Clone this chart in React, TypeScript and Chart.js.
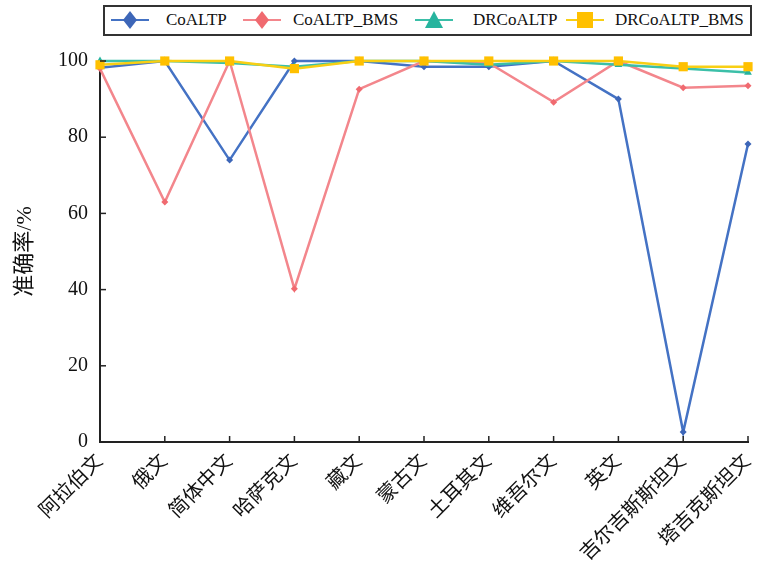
import React, { useEffect, useRef } from 'react';
import { Chart, registerables } from 'chart.js';

Chart.register(...registerables);

const categories = ['阿拉伯文', '俄文', '简体中文', '哈萨克文', '藏文', '蒙古文', '土耳其文', '维吾尔文', '英文', '吉尔吉斯斯坦文', '塔吉克斯坦文'];
const coALTP = [98.2, 100, 74, 100, 100, 98.5, 98.5, 100, 90, 2.6, 78.2];
const coALTPBMS = [98, 63, 100, 40.2, 92.6, 100, 99.5, 89.2, 100, 93, 93.5];
const drCoALTP = [100, 100, 99.5, 98.5, 100, 100, 99, 100, 99, 98, 97];
const drCoALTPBMS = [99, 100, 100, 98, 100, 100, 100, 100, 100, 98.5, 98.5];
const yTickValues = [0, 20, 40, 60, 80, 100];
const seriesNames = ['CoALTP', 'CoALTP_BMS', 'DRCoALTP', 'DRCoALTP_BMS'];

const BLUE = '#4472C4';
const BLUE_PT = '#3D66B8';
const RED = '#F3868C';
const RED_PT = '#F06A70';
const TEAL = '#3BBFA8';
const TEAL_PT = '#27B49E';
const YELLOW = '#F8CF14';
const YELLOW_PT = '#FFC000';

const SERIF = "'Liberation Serif', 'Times New Roman', 'Noto Sans CJK SC', serif";

const inwardTicks = {
  id: 'inwardTicks',
  afterDraw(chart: any) {
    const { ctx, chartArea, scales } = chart;
    const x = scales.x;
    const y = scales.y;
    ctx.save();
    ctx.strokeStyle = '#222';
    ctx.lineWidth = 1.5;
    x.ticks.forEach((_: any, i: number) => {
      const px = x.getPixelForTick(i);
      ctx.beginPath();
      ctx.moveTo(px, chartArea.bottom);
      ctx.lineTo(px, chartArea.bottom - 6);
      ctx.stroke();
    });
    y.ticks.forEach((_: any, i: number) => {
      const py = y.getPixelForTick(i);
      ctx.beginPath();
      ctx.moveTo(chartArea.left, py);
      ctx.lineTo(chartArea.left + 6, py);
      ctx.stroke();
    });
    ctx.restore();
  },
};

function Icon({ kind, line, fill }: { kind: string; line: string; fill: string }) {
  let marker: any = null;
  if (kind === 'diamond') marker = <polygon points="22,3 29,12 22,21 15,12" fill={fill} />;
  if (kind === 'triangle') marker = <polygon points="22,3 31,20 13,20" fill={fill} />;
  if (kind === 'square') marker = <rect x={14} y={4} width={16} height={16} fill={fill} />;
  return (
    <svg width={44} height={24} style={{ display: 'block' }}>
      <line x1={3} y1={12} x2={41} y2={12} stroke={line} strokeWidth={2} />
      {marker}
    </svg>
  );
}

export default function App() {
  const canvasRef = useRef<HTMLCanvasElement | null>(null);

  useEffect(() => {
    const canvas = canvasRef.current;
    if (!canvas) return;
    const mk = (label: string, data: number[], color: string, pt: string, style: string, radius: number, order: number) => ({
      label,
      data,
      borderColor: color,
      backgroundColor: pt,
      pointBackgroundColor: pt,
      pointBorderColor: pt,
      pointBorderWidth: 0,
      pointStyle: style,
      pointRadius: radius,
      borderWidth: 2.5,
      tension: 0,
      clip: false as any,
      order,
    });
    const chart = new Chart(canvas, {
      type: 'line',
      data: {
        labels: categories,
        datasets: [
          mk(seriesNames[0], coALTP, BLUE, BLUE_PT, 'rectRot', 3.5, 4),
          mk(seriesNames[1], coALTPBMS, RED, RED_PT, 'rectRot', 3.5, 3),
          mk(seriesNames[2], drCoALTP, TEAL, TEAL_PT, 'triangle', 4.5, 2),
          mk(seriesNames[3], drCoALTPBMS, YELLOW, YELLOW_PT, 'rect', 6.5, 1),
        ],
      },
      options: {
        animation: false,
        responsive: true,
        maintainAspectRatio: false,
        layout: { padding: { top: 61, right: 14, left: 0, bottom: 0 } },
        plugins: { legend: { display: false }, tooltip: { enabled: false } },
        scales: {
          x: {
            type: 'category',
            offset: false,
            grid: { display: false, drawTicks: false },
            border: { display: true, color: '#222', width: 2 },
            ticks: {
              autoSkip: false,
              maxRotation: 45,
              minRotation: 45,
              padding: 8,
              color: '#111',
              font: { family: SERIF, size: 20 },
            },
            afterFit: (s: any) => {
              s.height = 128;
              s.paddingLeft = 0;
              s.paddingRight = 0;
            },
          },
          y: {
            min: 0,
            max: 100,
            grid: { display: false, drawTicks: false },
            border: { display: true, color: '#222', width: 2 },
            afterBuildTicks: (s: any) => { s.ticks = yTickValues.map((v) => ({ value: v })); },
            ticks: {
              padding: 12,
              color: '#111',
              font: { family: SERIF, size: 20 },
            },
            title: {
              display: true,
              text: '准确率/%',
              color: '#111',
              font: { family: SERIF, size: 22 },
              padding: { top: 12, bottom: 0 },
            },
            afterFit: (s: any) => {
              s.width = 100;
              s.paddingTop = 0;
              s.paddingBottom = 0;
            },
          },
        },
      },
      plugins: [inwardTicks],
    });
    return () => chart.destroy();
  }, []);

  const items = [
    { name: seriesNames[0], kind: 'diamond', line: BLUE, fill: BLUE_PT, cx: 130, tx: 166 },
    { name: seriesNames[1], kind: 'diamond', line: RED, fill: RED_PT, cx: 262, tx: 293 },
    { name: seriesNames[2], kind: 'triangle', line: TEAL, fill: TEAL_PT, cx: 434, tx: 473 },
    { name: seriesNames[3], kind: 'square', line: YELLOW, fill: YELLOW_PT, cx: 585, tx: 615 },
  ];

  return (
    <div style={{ position: 'fixed', left: 0, top: 0, width: 762, height: 570, background: '#fff', overflow: 'hidden' }}>
      <div style={{ position: 'absolute', left: 0, top: 0, width: 762, height: 570 }}>
        <canvas ref={canvasRef} />
      </div>
      <div style={{ position: 'absolute', left: 103, top: 5, width: 649, height: 31, boxSizing: 'border-box', border: '2px solid #333', background: '#fff' }} />
      {items.map((it) => (
        <React.Fragment key={it.name}>
          <div style={{ position: 'absolute', left: it.cx - 22, top: 8 }}>
            <Icon kind={it.kind} line={it.line} fill={it.fill} />
          </div>
          <div style={{ position: 'absolute', left: it.tx, top: 9, fontFamily: SERIF, fontSize: 17, lineHeight: '22px', color: '#111', whiteSpace: 'nowrap' }}>
            {it.name}
          </div>
        </React.Fragment>
      ))}
    </div>
  );
}
